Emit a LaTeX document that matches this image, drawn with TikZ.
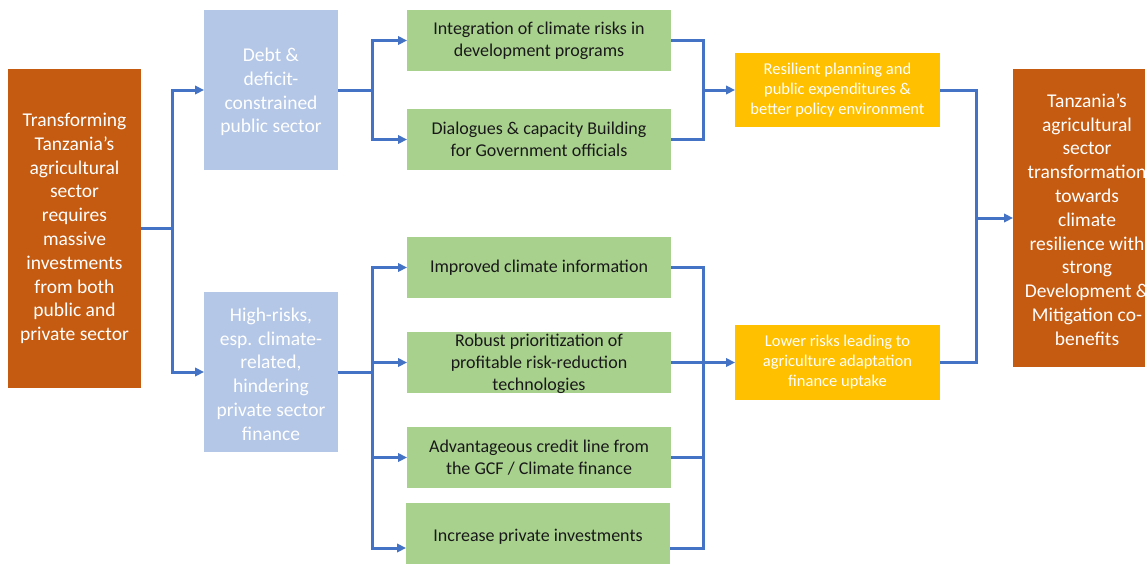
\documentclass[tikz,border=0pt]{standalone}
\usepackage{fontspec}
\setmainfont{Carlito}
\usetikzlibrary{arrows.meta,calc}
\definecolor{cOrange}{HTML}{C55A11}
\definecolor{cBlue}{HTML}{B4C7E7}
\definecolor{cGreen}{HTML}{A9D18E}
\definecolor{cYellow}{HTML}{FFC000}
\definecolor{cLine}{HTML}{4472C4}
\tikzset{
  boxbase/.style={rectangle, inner sep=0pt, outer sep=0pt, draw=none},
  orangebox/.style={boxbase, fill=cOrange},
  bluebox/.style={boxbase, fill=cBlue},
  greenbox/.style={boxbase, fill=cGreen},
  yellowbox/.style={boxbase, fill=cYellow},
  bigtxt/.style={inner sep=0pt, align=center, text=white, font=\fontsize{19.5}{23.8}\selectfont},
  gtxt/.style={inner sep=0pt, align=center, text=black!90, font=\fontsize{18}{22}\selectfont},
  ytxt/.style={inner sep=0pt, align=center, text=white, font=\fontsize{16.5}{20}\selectfont},
  conn/.style={draw=cLine, line width=3pt},
  arr/.style={conn, -{Triangle[length=9pt,width=8.5pt]}},
}
\begin{document}
\begin{tikzpicture}[x=1pt,y=-1pt]
\useasboundingbox (0,0) rectangle (1145,563);
\clip (0,0) rectangle (1145,563);
% boxes
\node[orangebox, minimum width=133pt, minimum height=319pt] (L) at (74.5,228.5) {};
\node[bluebox, minimum width=134pt, minimum height=160pt] (D) at (271,90) {};
\node[bluebox, minimum width=134pt, minimum height=160pt] (H) at (271,372) {};
\node[greenbox, minimum width=264pt, minimum height=61pt] (G1) at (539,40.5) {};
\node[greenbox, minimum width=264pt, minimum height=61pt] (G2) at (539,139.5) {};
\node[greenbox, minimum width=264pt, minimum height=61pt] (G3) at (539,267.5) {};
\node[greenbox, minimum width=264pt, minimum height=61pt] (G4) at (539,362.5) {};
\node[greenbox, minimum width=264pt, minimum height=61pt] (G5) at (539,457.5) {};
\node[greenbox, minimum width=264pt, minimum height=68pt] (G6) at (538,537) {};
\node[yellowbox, minimum width=205pt, minimum height=74pt] (Y1) at (837.5,90) {};
\node[yellowbox, minimum width=205pt, minimum height=75pt] (Y2) at (837.5,362.5) {};
\node[orangebox, minimum width=148pt, minimum height=298pt] (R) at (1087,218) {};
% texts
\node[bigtxt] (tL) at (L.center) {Transforming\\Tanzania’s\\agricultural\\sector\\requires\\massive\\investments\\from both\\public and\\private sector};
\node[bigtxt] (tD) at ($(D.center)+(0,2)$) {Debt \&\\deficit-\\constrained\\public sector};
\node[bigtxt] (tH) at ($(H.center)+(0,2)$) {High-risks,\\esp. climate-\\related,\\hindering\\private sector\\finance};
\node[gtxt] (tG1) at (G1.center) {Integration of climate risks in\\development programs};
\node[gtxt] (tG2) at (G2.center) {Dialogues \& capacity Building\\for Government officials};
\node[gtxt] (tG3) at (G3.center) {Improved climate information};
\node[gtxt] (tG4) at ($(G4.center)+(0,1.5)$) {Robust prioritization of\\profitable risk-reduction\\technologies};
\node[gtxt] (tG5) at (G5.center) {Advantageous credit line from\\the GCF / Climate finance};
\node[gtxt] (tG6) at (G6.center) {Increase private investments};
\node[ytxt] (tY1) at (Y1.center) {Resilient planning and\\public expenditures \&\\better policy environment};
\node[ytxt] (tY2) at (Y2.center) {Lower risks leading to\\agriculture adaptation\\finance uptake};
\node[bigtxt] (tR) at ($(R.center)+(0,1.5)$) {Tanzania’s\\agricultural\\sector\\transformation\\towards\\climate\\resilience with\\strong\\Development \&\\Mitigation co-\\benefits};
% junctions
\coordinate (jA) at (172,228.5);
\coordinate (jB) at (372,90);
\coordinate (jC) at (372,372);
\coordinate (jD) at (703,90);
\coordinate (jE) at (703,362.5);
\coordinate (jF) at (976,218);
% connectors: stage 1
\draw[conn] (L.east) -- (jA);
\draw[arr] (jA) |- (D.west);
\draw[arr] (jA) |- (H.west);
% stage 2
\draw[conn] (D.east) -- (jB);
\draw[arr] (jB) |- (G1.west);
\draw[arr] (jB) |- (G2.west);
\draw[conn] (H.east) -- (jC);
\draw[arr] (jC) |- (G3.west);
\draw[arr] (jC) |- (G4.west);
\draw[arr] (jC) |- (G5.west);
\draw[arr] (jC) |- ($(G6.west)+(0,11)$);
% stage 3
\draw[conn] (G1.east) -| (jD) |- (G2.east);
\draw[arr] (jD) -- (Y1.west);
\draw[conn] (G3.east) -| (jE) |- ($(G6.east)+(0,11)$);
\draw[conn] (G4.east) -- (jE);
\draw[conn] (G5.east) -| (jE);
\draw[arr] (jE) -- (Y2.west);
% stage 4
\draw[conn] (Y1.east) -| (jF) |- (Y2.east);
\draw[arr] (jF) -- (R.west);
\end{tikzpicture}
\end{document}
